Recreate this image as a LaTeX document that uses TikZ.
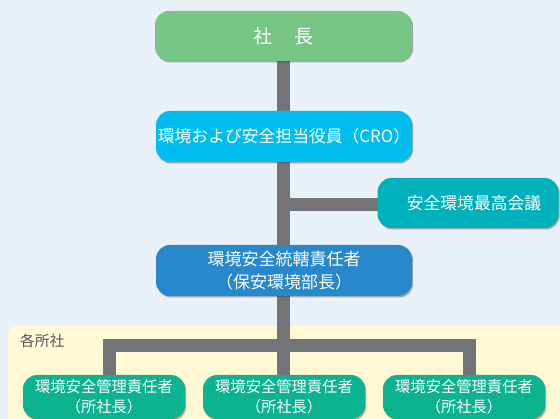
\documentclass[tikz,border=0pt]{standalone}
\usepackage{fontspec}
\setmainfont{Noto Sans CJK JP}
\usetikzlibrary{shadows}
\definecolor{bgblue}{HTML}{E9F1F8}
\definecolor{bgyellow}{HTML}{FFF9D6}
\definecolor{trunk}{HTML}{737478}
\definecolor{cpres}{HTML}{76C584}
\definecolor{ccro}{HTML}{00BDF0}
\definecolor{ccouncil}{HTML}{00B0BA}
\definecolor{cmgr}{HTML}{2788CB}
\definecolor{csite}{HTML}{0CB391}
\definecolor{labelgray}{HTML}{555555}
\begin{document}
\begin{tikzpicture}[x=1pt,y=-1pt,
  box/.style={rounded corners=14pt, text=white, minimum height=50pt, align=center, inner sep=0pt,
    drop shadow={shadow xshift=1.2pt, shadow yshift=-1.5pt, opacity=0.45, fill=black!70}},
  sitebox/.style={box, minimum width=162pt, minimum height=44pt, fill=csite, font=\fontsize{15.3}{19.5}\selectfont},
  link/.style={draw=trunk, line width=13pt}]
\useasboundingbox (0,0) rectangle (560,419);
\fill[bgblue] (0,0) rectangle (560,419);
\fill[bgyellow, rounded corners=8pt] (8,326) -- (570,326) -- (570,430) -- (8,430) -- cycle;
\node[text=labelgray, font=\fontsize{14.7}{17}\selectfont, anchor=west, inner sep=0pt] (lbl) at (20,341) {各所社};

% connectors first (behind)
\coordinate (pres-c) at (283.5,36);
\coordinate (cro-c) at (283.5,136.5);
\coordinate (mgr-c) at (283.5,270.5);
\coordinate (bar) at (283.5,346);
\coordinate (sl) at (109,397);
\coordinate (sm) at (283.5,397);
\coordinate (sr) at (469.5,397);
\coordinate (br) at (283.5,205);
\coordinate (cw) at (400,205);
\draw[link] (pres-c) -- (cro-c);
\draw[link] (cro-c) -- (mgr-c);
\draw[link] (br) -- (cw);
\draw[link] (mgr-c) -- (bar);
\draw[link] (sl) |- (bar) -| (sr);
\draw[link] (bar) -- (sm);

\node[box, fill=cpres, minimum width=257pt, font=\fontsize{19}{20}\selectfont] (pres) at (283.5,36) {社\hspace{1.15em}長};
\node[box, fill=ccro, minimum width=256pt, minimum height=51pt, font=\fontsize{16.8}{20}\selectfont] (cro) at (284,136.5) {環境および安全担当役員（CRO）};
\node[box, fill=ccouncil, minimum width=181pt, font=\fontsize{16.8}{20}\selectfont] (council) at (468,203) {\hspace{12pt}安全環境最高会議};
\node[box, fill=cmgr, minimum width=256pt, minimum height=51pt, font=\fontsize{17}{23}\selectfont] (mgr) at (284,270.5) {環境安全統轄責任者\\（保安環境部長）};
\node[sitebox] (s1) at (104,397) {環境安全管理責任者\\（所社長）};
\node[sitebox] (s2) at (284,397) {環境安全管理責任者\\（所社長）};
\node[sitebox] (s3) at (464,397) {環境安全管理責任者\\（所社長）};
\end{tikzpicture}
\end{document}
